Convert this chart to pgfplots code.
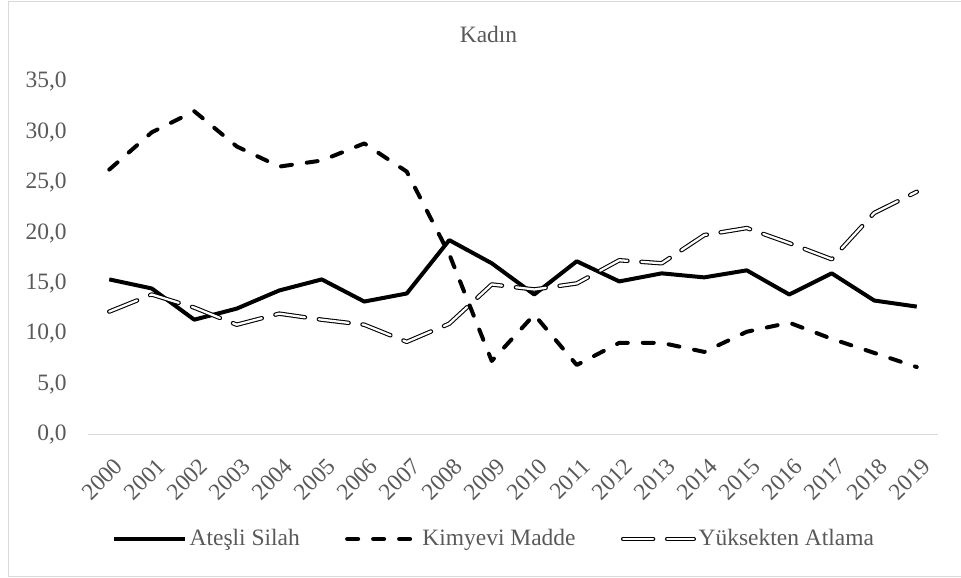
\documentclass[border=0pt]{standalone}
\usepackage{fontspec}
\setmainfont{Liberation Serif}
\usepackage{pgfplots}
\pgfplotsset{compat=1.18}
\definecolor{txtgray}{HTML}{595959}
\definecolor{linegray}{HTML}{D9D9D9}
\begin{document}
\fontsize{17.6}{21}\selectfont
\begin{tikzpicture}
\useasboundingbox (0,0) rectangle (720.75pt,433.5pt);
\draw[linegray, line width=1pt] (722pt,432.3pt) -- (6.2pt,432.3pt) -- (6.2pt,1pt) -- (722pt,1pt);
\begin{axis}[
  at={(66pt,107.625pt)}, anchor=south west,
  scale only axis, width=637.5pt, height=264.375pt,
  xmin=-0.5, xmax=19.5, ymin=0, ymax=35,
  axis x line*=bottom, axis y line*=left,
  x axis line style={draw=linegray, line width=1pt, -},
  y axis line style={draw=none},
  major tick length=0pt, tick style={draw=none},
  xtick={0,1,...,19},
  xticklabels={2000,2001,2002,2003,2004,2005,2006,2007,2008,2009,2010,2011,2012,2013,2014,2015,2016,2017,2018,2019},
  ytick={0,5,...,35},
  tick label style={text=txtgray},
  xticklabel style={xshift=3pt, yshift=-16.5pt, rotate=45, anchor=north east, inner sep=0pt},
  yticklabel style={anchor=east, inner sep=0pt, xshift=-15.75pt,
    /pgf/number format/fixed, /pgf/number format/fixed zerofill,
    /pgf/number format/precision=1, /pgf/number format/use comma,
    /pgf/number format/assume math mode=true},
  legend columns=3,
  legend style={at={(0.4782,-0.2965)}, anchor=center, draw=none, fill=none,
    text=txtgray, inner sep=0pt,
    /tikz/every even column/.append style={column sep=32pt}},
  legend image code/.code={\draw[#1] (0pt,0pt) -- (53pt,0pt);},
  line join=round,
]
\addplot[black, line width=3pt] coordinates {
(0,15.4) (1,14.5) (2,11.4) (3,12.5) (4,14.3) (5,15.4) (6,13.2) (7,14.0) (8,19.3) (9,17.0)
(10,13.9) (11,17.2) (12,15.2) (13,16.0) (14,15.6) (15,16.3) (16,13.9) (17,16.0) (18,13.3) (19,12.7)};
\addlegendentry{Ateşli Silah}
\addplot[black, line width=3pt, line cap=round, dash pattern=on 8.25pt off 11.25pt] coordinates {
(0,26.3) (1,30.0) (2,32.1) (3,28.6) (4,26.6) (5,27.2) (6,28.9) (7,26.1) (8,17.9) (9,7.3)
(10,11.9) (11,6.9) (12,9.1) (13,9.1) (14,8.2) (15,10.2) (16,11.1) (17,9.5) (18,8.1) (19,6.7)};
\addlegendentry{Kimyevi Madde}
\addplot[black, line width=0.8pt, double=white, double distance=1.7pt, line cap=round, dash pattern=on 22.5pt off 10.5pt] coordinates {
(0,12.2) (1,13.9) (2,12.6) (3,10.9) (4,12.0) (5,11.4) (6,10.9) (7,9.2) (8,11.0) (9,14.9)
(10,14.4) (11,15.0) (12,17.3) (13,17.0) (14,19.8) (15,20.5) (16,19.0) (17,17.4) (18,22.0) (19,24.1)};
\addlegendentry{Yüksekten Atlama}
\end{axis}
\node[anchor=base, text=txtgray, inner sep=0pt] at (366.4pt,401.5pt) {Kadın};
\end{tikzpicture}
\end{document}
